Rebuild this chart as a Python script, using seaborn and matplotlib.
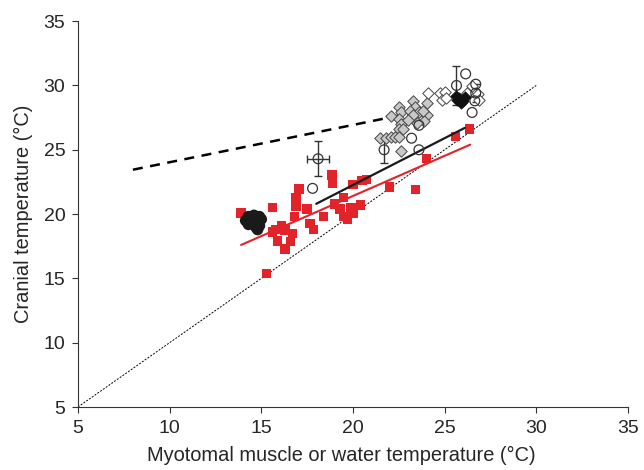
import numpy as np
import pandas as pd
import seaborn as sns
import matplotlib.pyplot as plt

# red squares
red_x = [13.9, 15.6, 15.3, 17.05, 16.9, 16.9, 17.5, 16.8, 18.4, 16.1, 15.8, 15.6, 16.3,
         16.7, 15.9, 16.6, 16.3, 17.65, 17.85, 18.85, 18.9, 20.0, 20.5, 20.75, 22.0,
         23.4, 19.5, 19.0, 19.3, 19.9, 20.0, 20.4, 19.5, 19.7, 24.0, 25.6, 26.35]
red_y = [20.1, 20.5, 15.4, 21.95, 21.3, 20.6, 20.4, 19.8, 19.8, 19.1, 18.8, 18.6, 18.75,
         18.5, 17.9, 17.85, 17.3, 19.25, 18.8, 23.05, 22.4, 22.3, 22.6, 22.7, 22.1,
         21.9, 21.3, 20.8, 20.4, 20.5, 20.1, 20.7, 19.8, 19.6, 24.3, 26.05, 26.6]

# black filled circles
bc_x = [14.3, 14.6, 14.9, 14.4, 14.8, 14.5, 14.9, 14.8, 14.3, 15.0, 14.15, 14.7]
bc_y = [19.8, 19.9, 19.8, 19.3, 19.4, 19.6, 19.1, 18.8, 19.2, 19.6, 19.5, 19.0]

# open circles
oc_x = [17.8, 18.1, 21.7, 23.2, 23.6, 23.6, 25.65, 26.15, 26.7, 26.65, 26.5, 26.7]
oc_y = [22.0, 24.3, 25.0, 25.9, 25.0, 26.9, 30.0, 30.9, 30.1, 28.8, 27.9, 29.4]
oc_xerr = [0, 0.6, 0, 0, 0, 0, 0, 0, 0, 0, 0, 0]
oc_yerr = [0, 1.35, 1.0, 0, 0, 0, 1.5, 0, 0, 0, 0, 0.7]

# grey diamonds
gd_x = [22.5, 22.1, 22.6, 22.5, 22.65, 22.5, 23.3, 23.4, 23.1, 23.6, 23.3, 24.05,
        24.05, 23.9, 23.5, 21.5, 21.8, 22.1, 22.3, 22.5, 22.65, 22.75, 23.0, 23.8]
gd_y = [28.3, 27.6, 27.9, 27.4, 27.0, 26.65, 28.8, 28.3, 28.0, 27.9, 27.7, 28.6,
        27.7, 27.2, 27.1, 25.9, 25.9, 26.0, 26.0, 26.0, 24.9, 26.6, 27.3, 28.0]

# open diamonds
od_x = [24.1, 24.75, 25.0, 24.85, 25.1, 26.2, 26.85, 26.5, 26.9]
od_y = [29.4, 29.4, 29.5, 28.9, 29.0, 29.4, 29.3, 29.95, 28.9]

# black diamonds
bd_x = [25.6, 25.8, 26.0, 25.9, 26.1, 25.7]
bd_y = [29.2, 29.0, 28.8, 28.6, 29.1, 28.9]

# regression / reference lines
dash_x, dash_y = [8.0, 23.0], [23.45, 27.8]
black_x, black_y = [18.0, 26.1], [20.8, 26.7]
red_line_x, red_line_y = [13.9, 26.4], [17.6, 25.4]
diag_x, diag_y = [5, 30], [5, 30]

red = '#e2232a'

sns.set_style("ticks")
plt.rcParams['font.family'] = ['Liberation Sans', 'DejaVu Sans']

fig = plt.figure(figsize=(6.44, 4.70), dpi=100)
ax = fig.add_axes([0.121, 0.134, 0.854, 0.821])

sns.lineplot(x=diag_x, y=diag_y, ax=ax, color='black', lw=0.7, linestyle=(0, (2, 1.5)))
sns.lineplot(x=dash_x, y=dash_y, ax=ax, color='black', lw=1.8, linestyle=(0, (4, 3)))

sns.scatterplot(x=red_x, y=red_y, ax=ax, marker='s', color=red, s=46, edgecolor='none', zorder=3)
sns.scatterplot(x=bc_x, y=bc_y, ax=ax, marker='o', color='#1a1a1a', s=70, edgecolor='none', zorder=3)

sns.lineplot(x=black_x, y=black_y, ax=ax, color='#1a1a1a', lw=1.6, zorder=4)
sns.lineplot(x=red_line_x, y=red_line_y, ax=ax, color=red, lw=1.5, zorder=4)

for x, y, xe, ye in zip(oc_x, oc_y, oc_xerr, oc_yerr):
    if xe or ye:
        ax.errorbar(x, y, xerr=xe if xe else None, yerr=ye if ye else None,
                    fmt='none', ecolor='#333333', elinewidth=1, capsize=3, zorder=2)
sns.scatterplot(x=gd_x, y=gd_y, ax=ax, marker='D', color='#c8c8c8', s=34,
                edgecolor='#444444', linewidth=0.7, zorder=3)
sns.scatterplot(x=od_x, y=od_y, ax=ax, marker='D', color='white', s=34,
                edgecolor='#444444', linewidth=0.7, zorder=3)
sns.scatterplot(x=oc_x, y=oc_y, ax=ax, marker='o', facecolor='none', s=50,
                edgecolor='#333333', linewidth=0.9, zorder=4)
sns.scatterplot(x=bd_x, y=bd_y, ax=ax, marker='D', color='#111111', s=34,
                edgecolor='#111111', zorder=5)

ax.set_xlim(5, 35)
ax.set_ylim(5, 35)
ax.set_xticks(range(5, 36, 5))
ax.set_yticks(range(5, 36, 5))
ax.tick_params(labelsize=14, length=4, width=0.8, color='#333333', pad=5)
for side in ['top', 'right']:
    ax.spines[side].set_visible(False)
for side in ['left', 'bottom']:
    ax.spines[side].set_linewidth(0.8)
    ax.spines[side].set_color('#333333')
ax.set_xlabel('Myotomal muscle or water temperature (°C)', fontsize=14.4)
ax.set_ylabel('Cranial temperature (°C)', fontsize=14.4)
ax.xaxis.set_label_coords(0.478, -0.1)
ax.yaxis.set_label_coords(-0.081, 0.5)

fig.savefig('out.png', dpi=100)
